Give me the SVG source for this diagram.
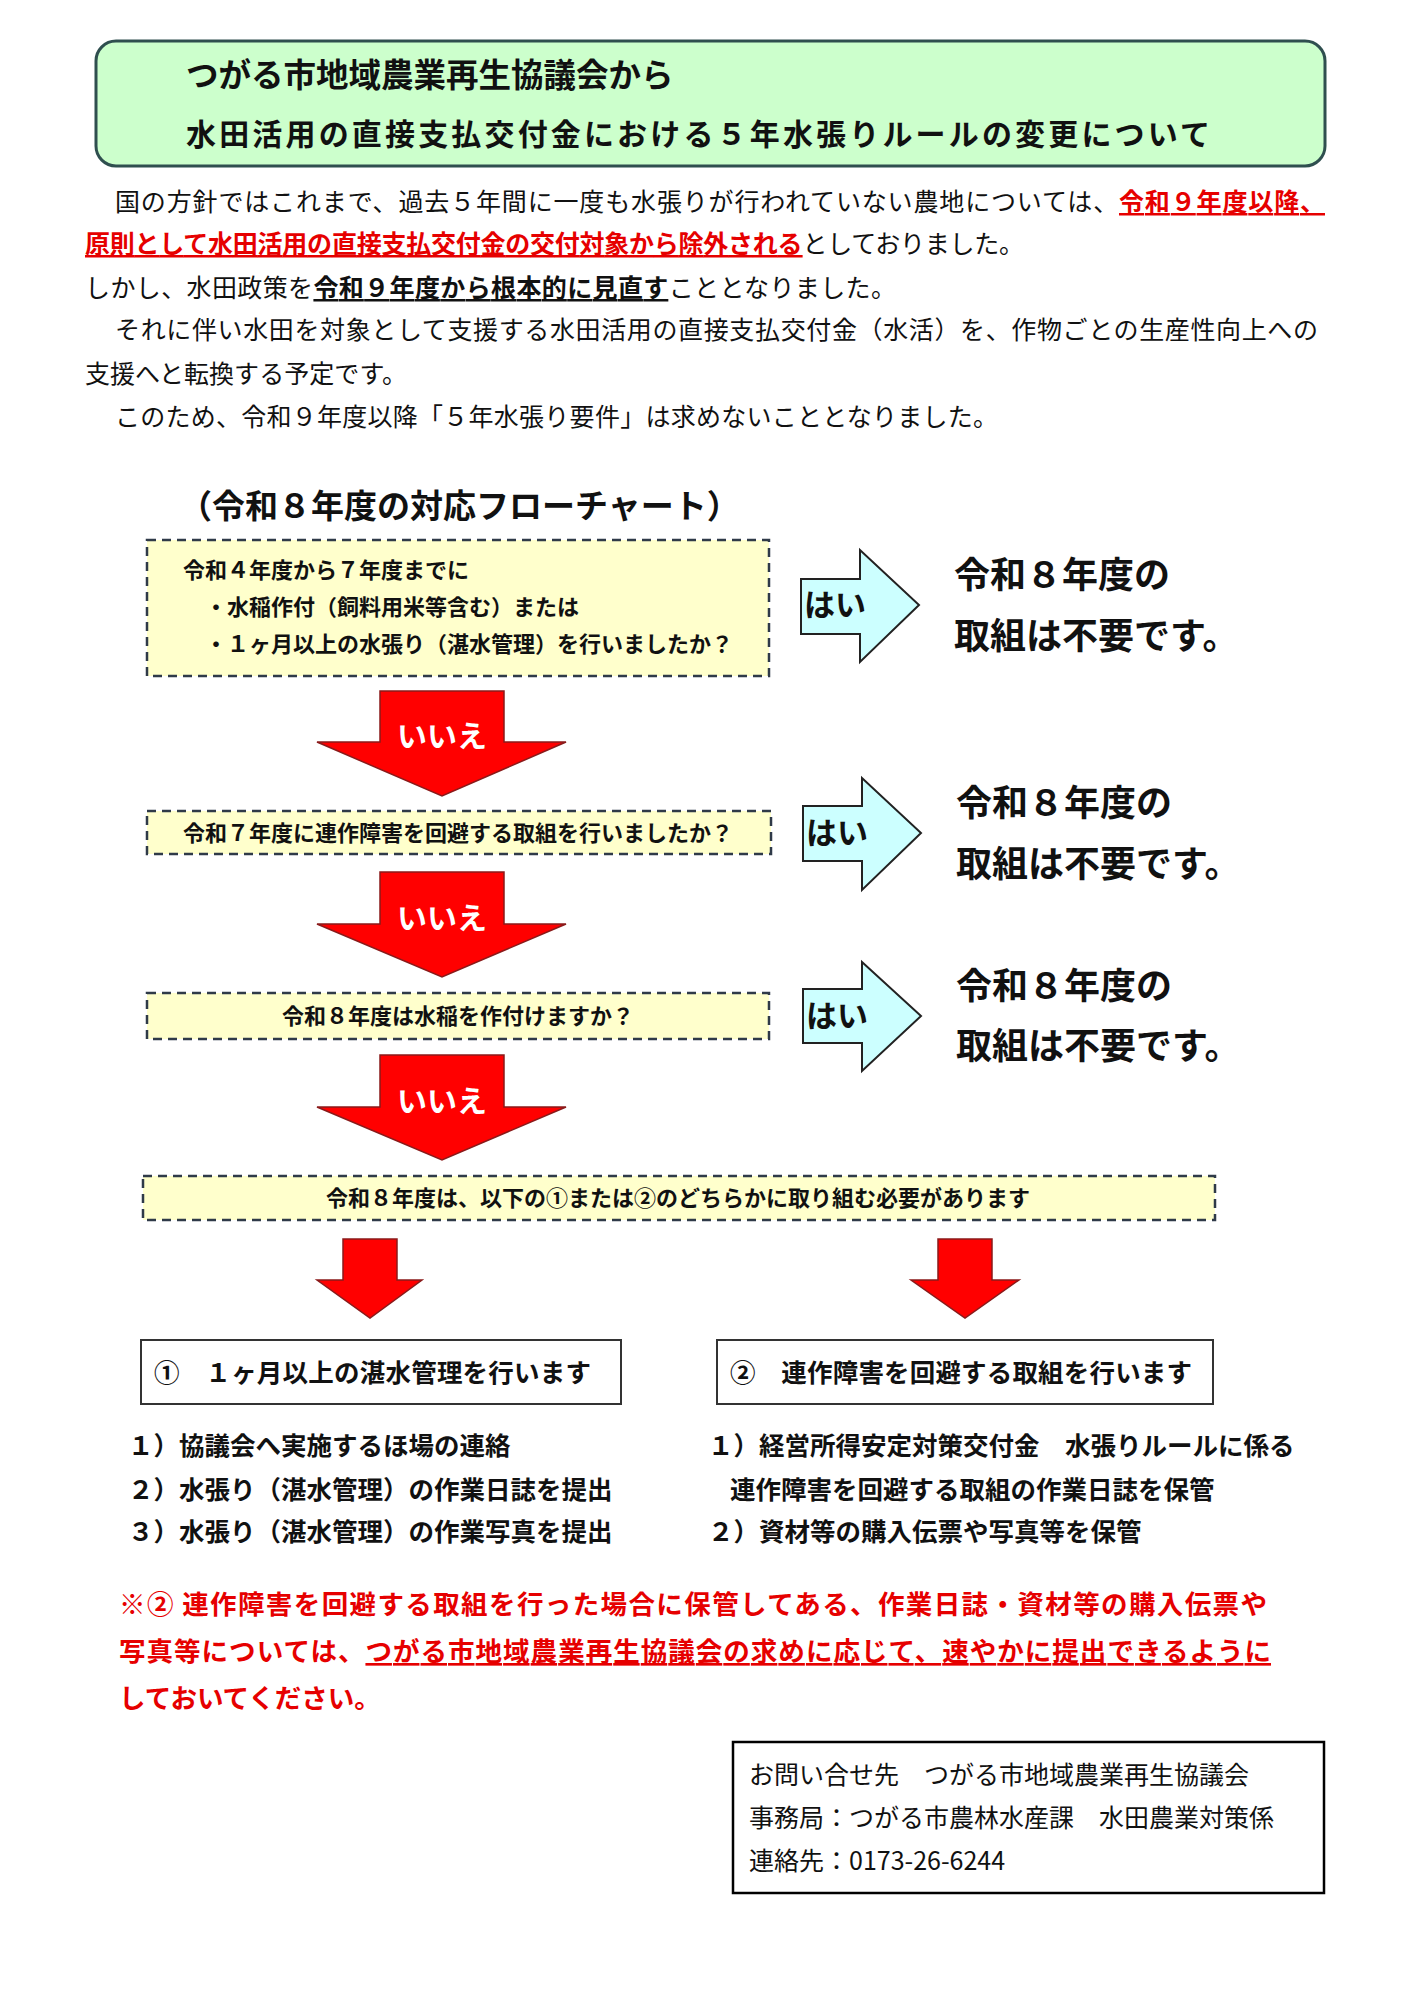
<svg xmlns="http://www.w3.org/2000/svg" width="1414" height="2000" viewBox="0 0 1414 2000">
<style>
text{font-family:"Noto Sans CJK JP","Noto Sans",sans-serif;fill:#111}
.b{font-weight:700}
.body{font-size:25px}
.q{font-size:22px;font-weight:700}
.res{font-size:36px;font-weight:700}
.qbox{fill:#ffffcc;stroke:#2f3a48;stroke-width:2.5;stroke-dasharray:9 6}
.hai{fill:#ccffff;stroke:#222;stroke-width:2}
.red{fill:#ff0000;stroke:#8a1a1a;stroke-width:1.5}
.ie{font-size:30px;font-weight:700;fill:#fff}
.hi{font-size:31px;font-weight:700}
.li{font-size:25.5px;font-weight:700}
.rn{font-size:26.5px;font-weight:700;fill:#e60000}
.u{text-decoration:underline}
.ct{font-size:25px}
</style>
<g id="title">
<rect x="96" y="41" width="1229" height="125" rx="20" fill="#ccffcc" stroke="#2f4f4f" stroke-width="3"/>
<text x="186" y="87" class="b" font-size="32.5">つがる市地域農業再生協議会から</text>
<text x="186" y="145" class="b" font-size="30" textLength="1024">水田活用の直接支払交付金における５年水張りルールの変更について</text>
</g>
<g id="intro" class="body">
<text x="115" y="211" class="body" textLength="1210">国の方針ではこれまで、過去５年間に一度も水張りが行われていない農地については、<tspan class="b u" fill="#e60000">令和９年度以降、</tspan></text>
<text x="85" y="253" class="body" textLength="939"><tspan class="b u" fill="#e60000">原則として水田活用の直接支払交付金の交付対象から除外される</tspan>としておりました。</text>
<text x="85" y="297" class="body" textLength="811">しかし、水田政策を<tspan class="b u">令和９年度から根本的に見直す</tspan>こととなりました。</text>
<text x="115" y="339" class="body" textLength="1203">それに伴い水田を対象として支援する水田活用の直接支払交付金（水活）を、作物ごとの生産性向上への</text>
<text x="85" y="383" class="body" textLength="322">支援へと転換する予定です。</text>
<text x="115" y="426" class="body" textLength="883">このため、令和９年度以降「５年水張り要件」は求めないこととなりました。</text>
</g>
<text x="179" y="518" class="b" font-size="33">（令和８年度の対応フローチャート）</text>
<g id="q1">
<rect x="147" y="540" width="622" height="136" class="qbox"/>
<text x="183" y="578" class="q">令和４年度から７年度までに</text>
<text x="205" y="615" class="q">・水稲作付（飼料用米等含む）または</text>
<text x="205" y="652" class="q">・１ヶ月以上の水張り（湛水管理）を行いましたか？</text>
</g>
<g id="q2">
<rect x="147" y="811" width="624" height="43" class="qbox"/>
<text x="458" y="841" class="q" text-anchor="middle">令和７年度に連作障害を回避する取組を行いましたか？</text>
</g>
<g id="q3">
<rect x="147" y="993" width="622" height="46" class="qbox"/>
<text x="458" y="1024" class="q" text-anchor="middle">令和８年度は水稲を作付けますか？</text>
</g>
<g id="q4">
<rect x="143" y="1176" width="1072" height="44" class="qbox"/>
<text x="678" y="1206" class="q" text-anchor="middle">令和８年度は、以下の①または②のどちらかに取り組む必要があります</text>
</g>
<g id="r1"><text x="954" y="588" class="res">令和８年度の</text><text x="954" y="649" class="res">取組は不要です。</text></g>
<g id="r2"><text x="956" y="816" class="res">令和８年度の</text><text x="956" y="877" class="res">取組は不要です。</text></g>
<g id="r3"><text x="956" y="999" class="res">令和８年度の</text><text x="956" y="1059" class="res">取組は不要です。</text></g>
<g id="connectors">
<path class="hai" d="M801 579H860V550L919 605L860 662V634H801Z"/>
<text x="835" y="616" class="hi" text-anchor="middle">はい</text>
<path class="hai" d="M803 806H862V778L921 833L862 890V861H803Z"/>
<text x="837" y="844" class="hi" text-anchor="middle">はい</text>
<path class="hai" d="M803 989H862V962L921 1016L862 1071V1043H803Z"/>
<text x="837" y="1027" class="hi" text-anchor="middle">はい</text>
<path class="red" d="M380 691H504V742H566L442 796L317 742H380Z"/>
<text x="442" y="747" class="ie" text-anchor="middle">いいえ</text>
<path class="red" d="M380 872H504V924H566L442 977L317 924H380Z"/>
<text x="442" y="929" class="ie" text-anchor="middle">いいえ</text>
<path class="red" d="M380 1055H504V1107H566L442 1160L317 1107H380Z"/>
<text x="442" y="1112" class="ie" text-anchor="middle">いいえ</text>
<path class="red" d="M343 1239H397V1280H422L370 1318L317 1280H343Z"/>
<path class="red" d="M938 1239H992V1280H1019L965 1318L911 1280H938Z"/>
</g>
<g id="opt1">
<rect x="141" y="1340" width="480" height="64" fill="#fff" stroke="#333" stroke-width="2"/>
<text x="154" y="1382" class="li" textLength="437">①　１ヶ月以上の湛水管理を行います</text>
<text x="128" y="1455" class="li">１）協議会へ実施するほ場の連絡</text>
<text x="128" y="1499" class="li">２）水張り（湛水管理）の作業日誌を提出</text>
<text x="128" y="1541" class="li">３）水張り（湛水管理）の作業写真を提出</text>
</g>
<g id="opt2">
<rect x="717" y="1340" width="496" height="64" fill="#fff" stroke="#333" stroke-width="2"/>
<text x="730" y="1382" class="li" textLength="462">②　連作障害を回避する取組を行います</text>
<text x="708" y="1455" class="li">１）経営所得安定対策交付金　水張りルールに係る</text>
<text x="730" y="1499" class="li">連作障害を回避する取組の作業日誌を保管</text>
<text x="708" y="1541" class="li">２）資材等の購入伝票や写真等を保管</text>
</g>
<g id="note">
<text x="119" y="1614" class="rn" textLength="1148">※② 連作障害を回避する取組を行った場合に保管してある、作業日誌・資材等の購入伝票や</text>
<text x="119" y="1661" class="rn" textLength="1152">写真等については、<tspan class="u">つがる市地域農業再生協議会の求めに応じて、速やかに提出できるように</tspan></text>
<text x="119" y="1708" class="rn">しておいてください。</text>
</g>
<g id="contact">
<rect x="733" y="1742" width="591" height="151" fill="#fff" stroke="#000" stroke-width="2.5"/>
<text x="749" y="1784" class="ct">お問い合せ先　つがる市地域農業再生協議会</text>
<text x="749" y="1827" class="ct">事務局：つがる市農林水産課　水田農業対策係</text>
<text x="749" y="1870" class="ct">連絡先：0173-26-6244</text>
</g>
</svg>
